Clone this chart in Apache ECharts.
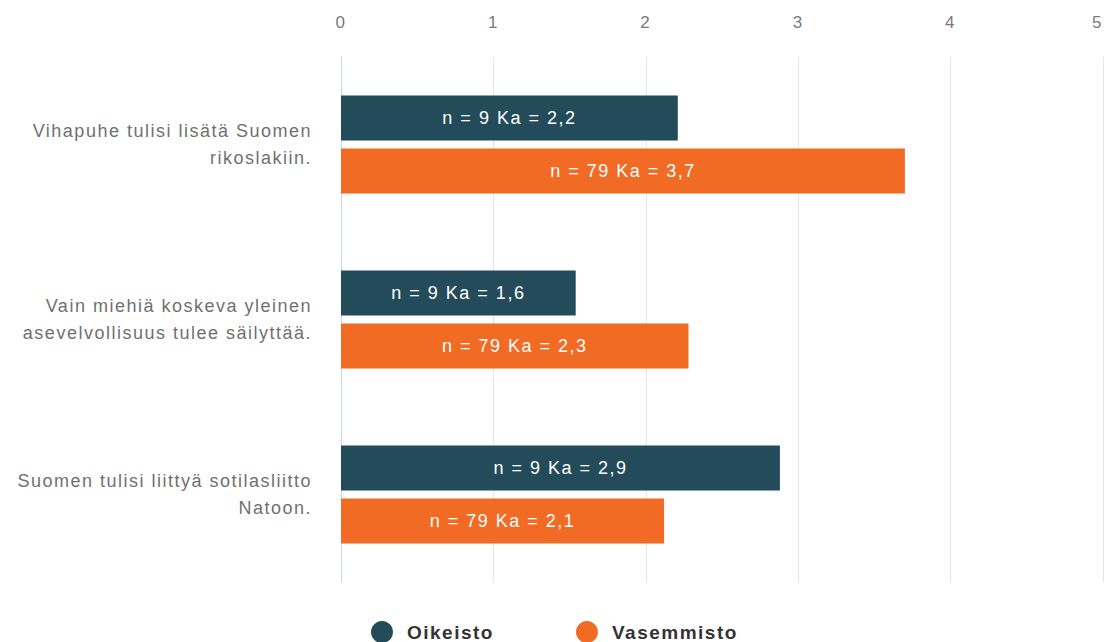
<!DOCTYPE html>
<html><head><meta charset="utf-8">
<script src="https://cdn.jsdelivr.net/npm/echarts@6/dist/echarts.min.js"></script>
<style>
html,body{margin:0;padding:0;background:#fff}
#c{width:1105px;height:642px}
#c text{letter-spacing:1.5px}
</style>
</head><body><div id="c"></div>
<script>
const categories = [
  "Vihapuhe tulisi lisätä Suomen\nrikoslakiin.",
  "Vain miehiä koskeva yleinen\nasevelvollisuus tulee säilyttää.",
  "Suomen tulisi liittyä sotilasliitto\nNatoon."
];
const seriesNames = ["Oikeisto", "Vasemmisto"];
const oikeistoValues = [2.21, 1.54, 2.88];
const vasemmistoValues = [3.70, 2.28, 2.12];
const oikeistoLabels = ["n = 9 Ka = 2,2", "n = 9 Ka = 1,6", "n = 9 Ka = 2,9"];
const vasemmistoLabels = ["n = 79 Ka = 3,7", "n = 79 Ka = 2,3", "n = 79 Ka = 2,1"];
const xTicks = [0, 1, 2, 3, 4, 5];

const chart = echarts.init(document.getElementById('c'), null, { renderer: 'svg' });
const font = '"Liberation Sans", Arial, sans-serif';
function mkSeries(name, values, labels, color) {
  return {
    name: name, type: 'bar', barWidth: 45, barGap: '18%',
    data: values,
    itemStyle: { color: color },
    label: {
      show: true, position: 'inside', color: '#fff', fontSize: 18, fontFamily: font,
      formatter: p => labels[p.dataIndex]
    }
  };
}
chart.setOption({
  animation: false,
  textStyle: { fontFamily: font },
  grid: { left: 341, right: 2, top: 57, bottom: 60, outerBoundsMode: 'none', containLabel: false },
  legend: {
    top: 616, left: 366, icon: 'circle', itemWidth: 22, itemHeight: 22, itemGap: 94,
    textStyle: { fontSize: 19, fontWeight: 'bold', color: '#333', fontFamily: font, padding: [0, 0, 0, 9] },
    data: seriesNames
  },
  xAxis: {
    type: 'value', position: 'top', min: xTicks[0], max: xTicks[xTicks.length - 1], interval: 1,
    axisLine: { show: false }, axisTick: { show: false },
    axisLabel: { color: '#7a7a7a', fontSize: 17, margin: 26, alignMaxLabel: 'right', formatter: v => String(v) },
    splitLine: { lineStyle: { color: '#e6e6e6', width: 1 } }
  },
  yAxis: {
    type: 'category', inverse: true, data: categories,
    axisLine: { show: true, lineStyle: { color: '#ccd6eb' } },
    axisTick: { show: false },
    axisLabel: { color: '#707070', fontSize: 18, margin: 29, align: 'right', lineHeight: 27, padding: [4, 0, 0, 0] }
  },
  series: [
    mkSeries(seriesNames[0], oikeistoValues, oikeistoLabels, '#234B5A'),
    mkSeries(seriesNames[1], vasemmistoValues, vasemmistoLabels, '#F26B24')
  ]
});
</script></body></html>
